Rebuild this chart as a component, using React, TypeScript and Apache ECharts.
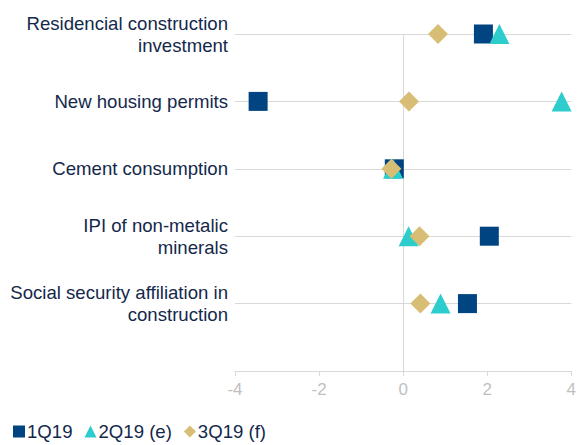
import React, { useEffect, useRef } from "react";
import * as echarts from "echarts";

const categories = [
  "Residencial construction\ninvestment",
  "New housing permits",
  "Cement consumption",
  "IPI of non-metalic\nminerals",
  "Social security affiliation in\nconstruction",
];
const seriesNames = ["1Q19", "2Q19 (e)", "3Q19 (f)"];
const q1Values = [1.91, -3.45, -0.21, 2.05, 1.53];
const q2Values = [2.29, 3.77, -0.24, 0.13, 0.89];
const q3Values = [0.83, 0.14, -0.28, 0.39, 0.41];
const xTicks = { min: -4, max: 4, interval: 2 };

const NAVY_TEXT = "#14284b";
const GRID = "#d9d9d9";
const FONT = "Liberation Sans, Arial, sans-serif";

export default function App() {
  const ref = useRef<HTMLDivElement>(null);
  useEffect(() => {
    document.body.style.margin = "0";
    if (!ref.current) return;
    const chart = echarts.init(ref.current, undefined, { renderer: "svg" });
    const n = categories.length;
    const toPoints = (vals: number[]) => vals.map((v, i) => [v, n - i]);
    chart.setOption({
      animation: false,
      textStyle: { fontFamily: FONT },
      grid: { left: 235, right: 5, top: 34, bottom: 74, containLabel: false },
      legend: {
        left: 13,
        top: 422,
        padding: 0,
        itemWidth: 12,
        itemHeight: 12,
        itemGap: 12,
        textStyle: { fontSize: 18.6, color: NAVY_TEXT, fontFamily: FONT, padding: [0, 0, 0, -3] },
        data: [
          { name: seriesNames[0], icon: "rect" },
          { name: seriesNames[1], icon: "triangle" },
          { name: seriesNames[2], icon: "diamond" },
        ],
      },
      xAxis: {
        type: "value",
        min: xTicks.min,
        max: xTicks.max,
        interval: xTicks.interval,
        axisLine: { show: true, onZero: false, lineStyle: { color: GRID, width: 1 } },
        axisTick: { show: true, length: 5, lineStyle: { color: GRID } },
        splitLine: { show: false },
        axisLabel: { fontSize: 17, color: "#bfbfbf", margin: 10, fontFamily: FONT },
      },
      yAxis: {
        type: "value",
        min: 0,
        max: n,
        interval: 1,
        axisLine: { show: false },
        axisTick: { show: false },
        splitLine: { show: true, lineStyle: { color: GRID, width: 1 } },
        axisLabel: {
          fontSize: 18.6,
          lineHeight: 22,
          color: NAVY_TEXT,
          align: "right",
          margin: 7,
          padding: [0, 0, 4, 0],
          fontFamily: FONT,
          formatter: (v: number) => (v >= 1 && v <= n ? categories[n - v] : ""),
        },
      },
      series: [
        {
          name: seriesNames[0],
          type: "scatter",
          symbol: "rect",
          symbolSize: 19,
          itemStyle: { color: "#004481", opacity: 1 },
          data: toPoints(q1Values),
          markLine: {
            silent: true,
            symbol: ["none", "none"],
            label: { show: false },
            lineStyle: { color: GRID, type: "solid", width: 1 },
            data: [{ xAxis: 0 }],
            z: 1,
          },
        },
        {
          name: seriesNames[1],
          type: "scatter",
          symbol: "triangle",
          symbolSize: 20,
          itemStyle: { color: "#2dcccd", opacity: 1 },
          data: toPoints(q2Values),
        },
        {
          name: seriesNames[2],
          type: "scatter",
          symbol: "diamond",
          symbolSize: 20,
          itemStyle: { color: "#d8be75", opacity: 1 },
          data: toPoints(q3Values),
        },
      ],
    });
    return () => chart.dispose();
  }, []);
  return (
    <div
      ref={ref}
      style={{ position: "absolute", left: 0, top: 0, width: 579, height: 445 }}
    />
  );
}
